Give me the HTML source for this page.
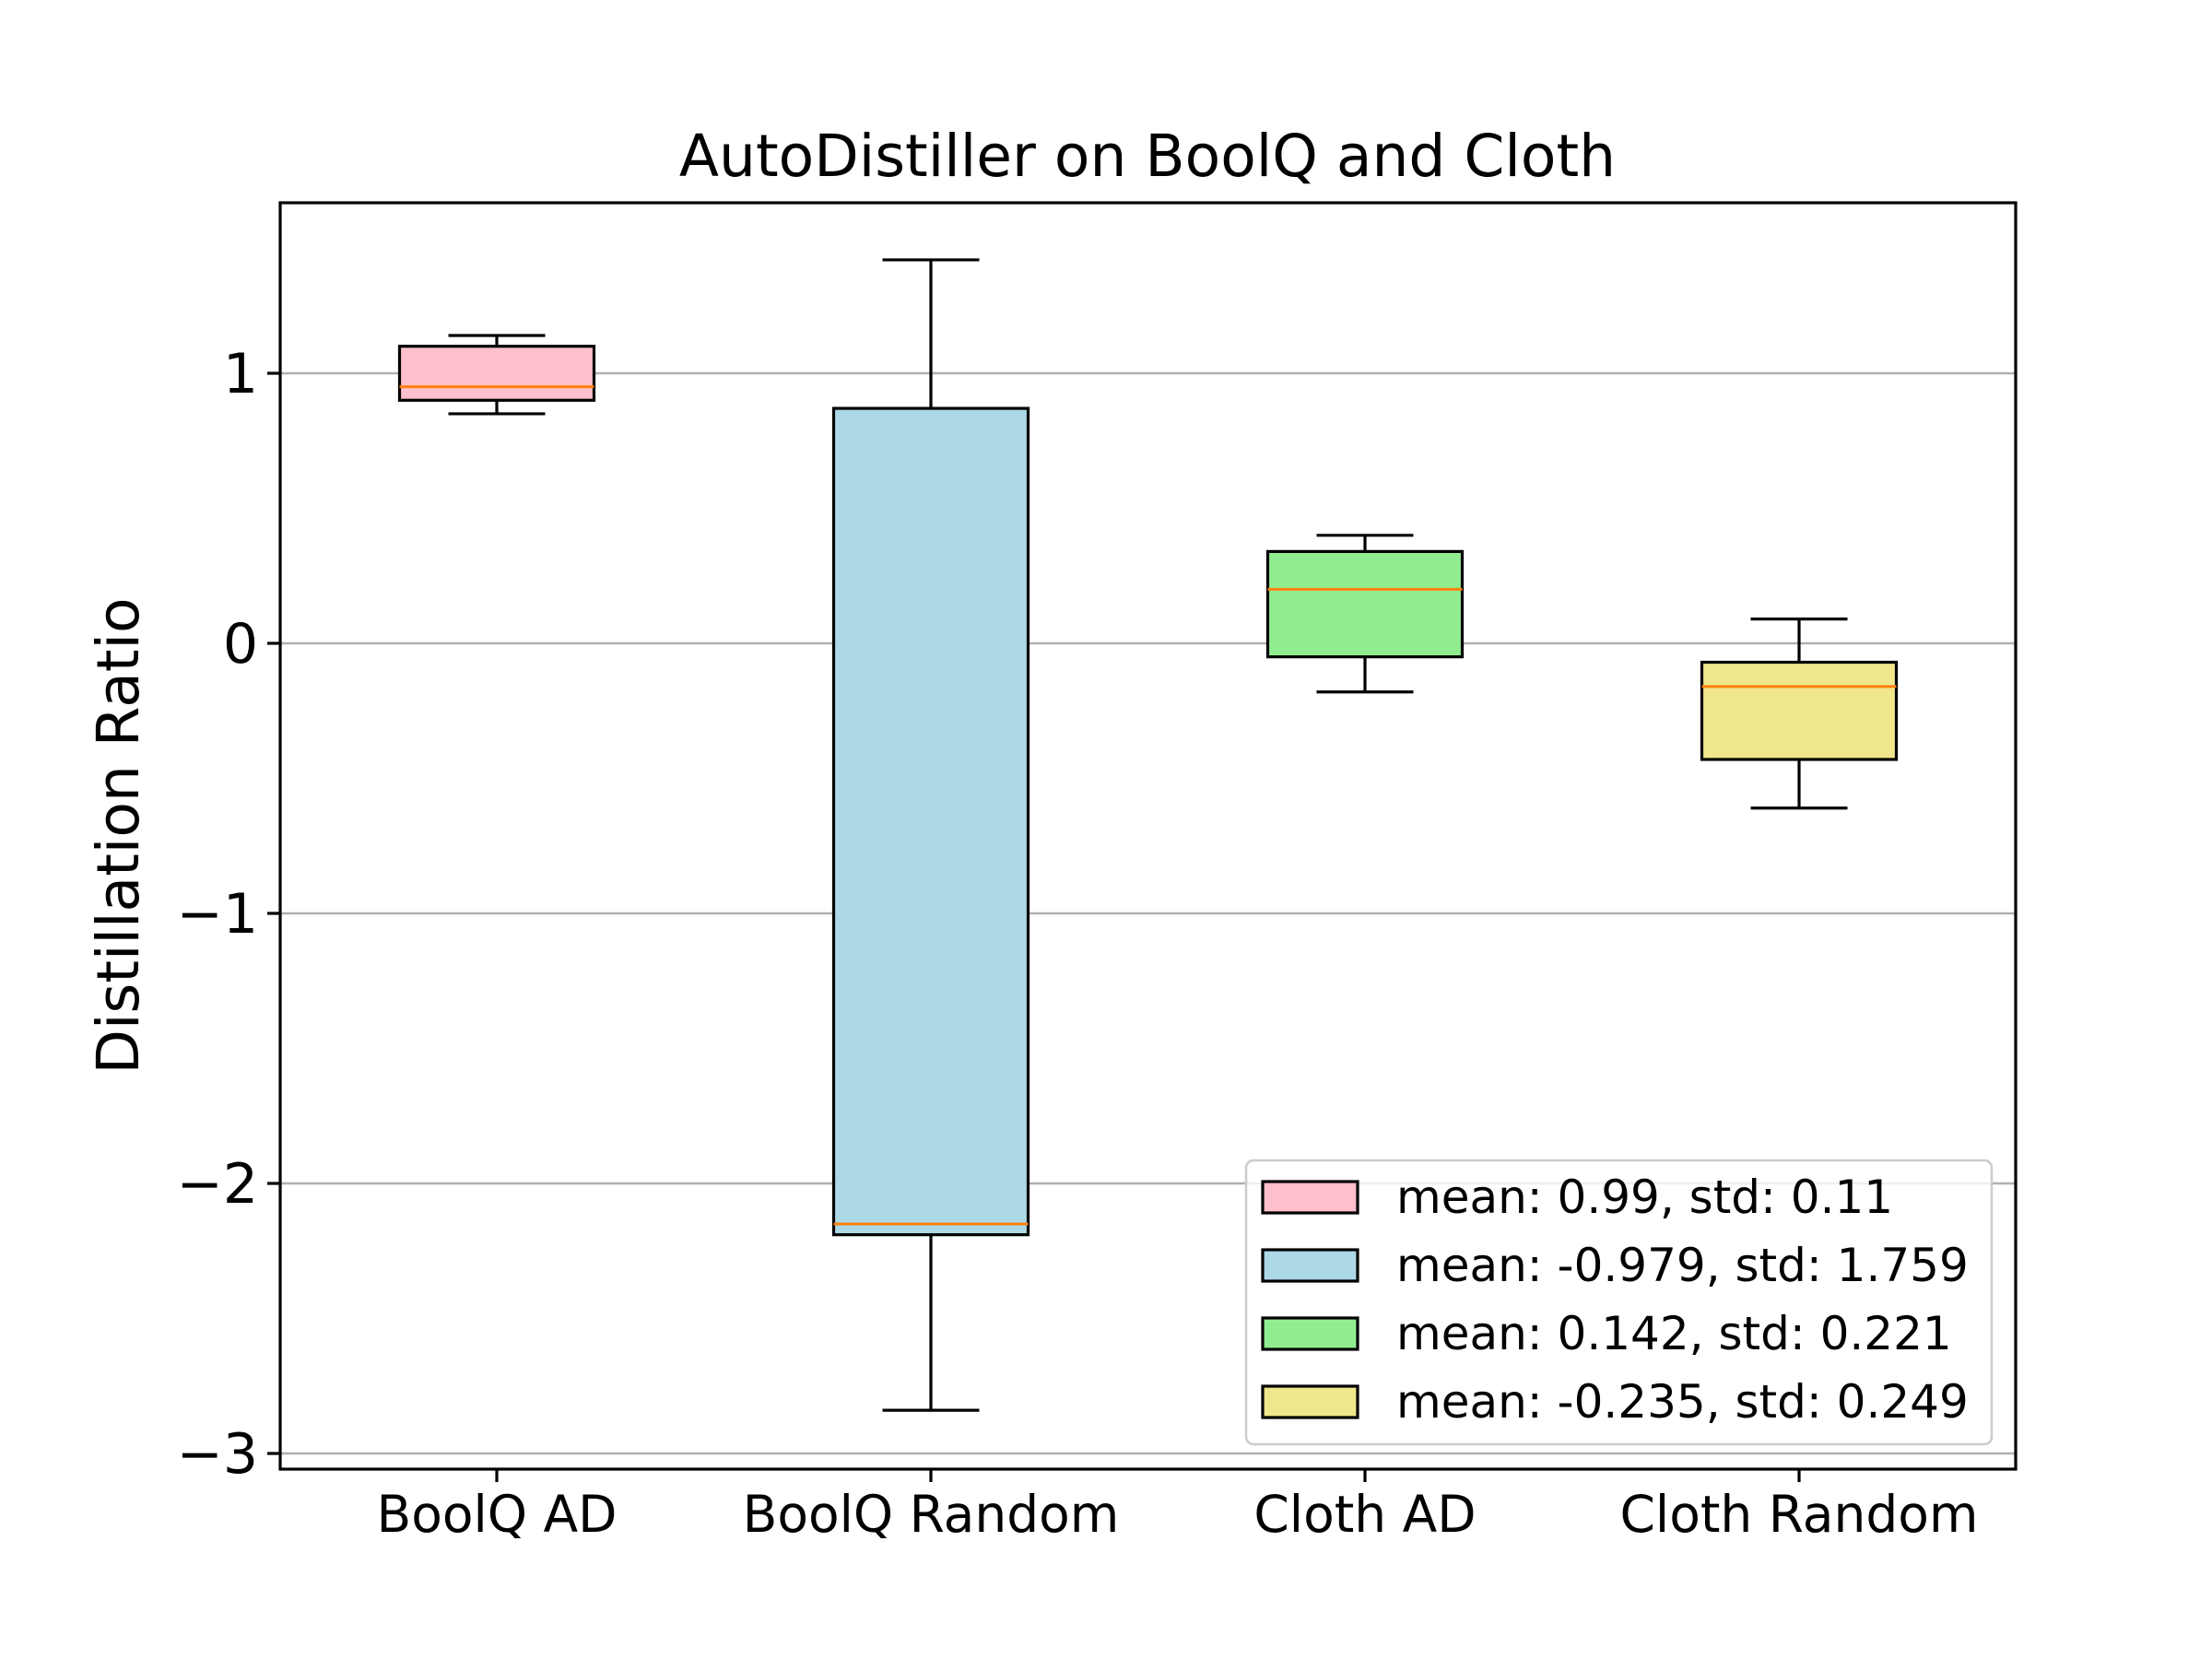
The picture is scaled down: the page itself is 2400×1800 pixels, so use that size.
<!DOCTYPE html>
<html><head><meta charset="utf-8"><style>body{margin:0;background:#fff}svg{display:block}text{font-family:"DejaVu Sans","Liberation Sans",sans-serif}</style></head>
<body>
<svg id="c" width="2400" height="1800" viewBox="0 0 2400 1800">
<rect width="2400" height="1800" fill="#fff"/>
<text x="1245" y="191" font-size="63" text-anchor="middle">AutoDistiller on BoolQ and Cloth</text>
<text transform="translate(150,907) rotate(-90)" font-size="63" text-anchor="middle">Distillation Ratio</text>
<g id="grid"></g><g id="boxes"></g><g id="axes"></g><g id="legend"></g>
</svg>
<script>
const categories=["BoolQ AD","BoolQ Random","Cloth AD","Cloth Random"];
const whiskerLow=[0.85,-2.84,-0.18,-0.61];
const q1=[0.90,-2.19,-0.05,-0.43];
const medians=[0.95,-2.15,0.20,-0.16];
const q3=[1.10,0.87,0.34,-0.07];
const whiskerHigh=[1.14,1.42,0.40,0.09];
const colors=["pink","lightblue","lightgreen","khaki"];
const legendLabels=["mean: 0.99, std: 0.11","mean: -0.979, std: 1.759","mean: 0.142, std: 0.221","mean: -0.235, std: 0.249"];
const yTicks=[1,0,-1,-2,-3];
const yTickLabels=["1","0","\u22121","\u22122","\u22123"];
const NS="http://www.w3.org/2000/svg";
const L=304,R=2187,T=220,B=1594;
const y=v=>698-293*v;
const x=i=>539+i*471;
const SW=3.2;
function mk(p,tag,a){const e=document.createElementNS(NS,tag);for(const k in a)e.setAttribute(k,a[k]);p.appendChild(e);return e;}
const G=document.getElementById('grid'),BX=document.getElementById('boxes'),AX=document.getElementById('axes'),LG=document.getElementById('legend');
yTicks.forEach((t,i)=>{
 const g=mk(G,'line',{x1:L,x2:R,y1:y(t),y2:y(t),stroke:'#b0b0b0','stroke-width':2.5});
 
 
 const tk=mk(AX,'line',{x1:L-14,x2:L,y1:y(t),y2:y(t),stroke:'#000','stroke-width':SW});
 
 
 const lb=mk(AX,'text',{x:L-24,y:y(t)+21,'font-size':60,'text-anchor':'end'});
 lb.textContent=yTickLabels[i];
 
 
});
const bw=211,cw=105;
categories.forEach((c,i)=>{
 const cx=x(i);
 const g=mk(BX,'g',{});
 
 
 mk(g,'line',{x1:cx,x2:cx,y1:y(q3[i]),y2:y(whiskerHigh[i]),stroke:'#000','stroke-width':SW});
 mk(g,'line',{x1:cx,x2:cx,y1:y(q1[i]),y2:y(whiskerLow[i]),stroke:'#000','stroke-width':SW});
 mk(g,'line',{x1:cx-cw/2,x2:cx+cw/2,y1:y(whiskerHigh[i]),y2:y(whiskerHigh[i]),stroke:'#000','stroke-width':SW});
 mk(g,'line',{x1:cx-cw/2,x2:cx+cw/2,y1:y(whiskerLow[i]),y2:y(whiskerLow[i]),stroke:'#000','stroke-width':SW});
 mk(g,'rect',{x:cx-bw/2,y:y(q3[i]),width:bw,height:y(q1[i])-y(q3[i]),fill:colors[i],stroke:'#000','stroke-width':SW});
 mk(g,'line',{x1:cx-bw/2,x2:cx+bw/2,y1:y(medians[i]),y2:y(medians[i]),stroke:'#ff7f0e','stroke-width':3});
 const tk=mk(AX,'line',{x1:cx,x2:cx,y1:B,y2:B+14,stroke:'#000','stroke-width':SW});
 
 
 const lb=mk(AX,'text',{x:cx,y:1662,'font-size':55,'text-anchor':'middle'});
 lb.textContent=c;
 
 
});
const fr=mk(AX,'rect',{x:L,y:T,width:R-L,height:B-T,fill:'none',stroke:'#000','stroke-width':SW});


const lbx=mk(LG,'rect',{x:1352,y:1259,width:809,height:308,rx:8,fill:'#fff','fill-opacity':0.8,stroke:'#ccc','stroke-width':2.5});


legendLabels.forEach((t,i)=>{
 const cy=1299+i*74;
 const g=mk(LG,'g',{});
 
 
 mk(g,'rect',{x:1370,y:cy-17,width:103,height:34,fill:colors[i],stroke:'#000','stroke-width':SW});
 const tx=mk(g,'text',{x:1515,y:cy+17,'font-size':50});
 tx.textContent=t;
});
</script>
</body></html>
